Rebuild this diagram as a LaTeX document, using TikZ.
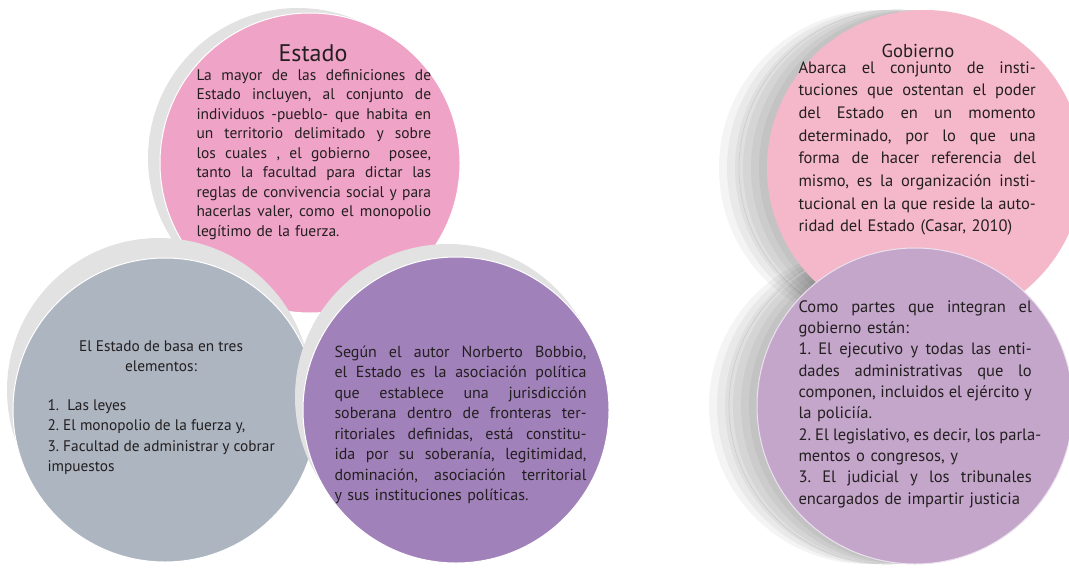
\documentclass[tikz,border=0pt]{standalone}
\usepackage{fontspec}
\setmainfont{PT Sans}

\newlength{\colw}
\newcommand{\jl}[1]{\makebox[\colw][s]{\spaceskip=0.25em plus 1fil\relax #1}}

\tikzset{every picture/.style={line width=0.75pt}}
\tikzset{
  shadowring/.style={draw=none, fill={rgb, 255:red, 226; green, 226; blue, 226 }},
  fadestep/.style={draw=none, fill=black, fill opacity=0.045},
  bodytext/.style={inner sep=0.75pt, font=\fontsize{11.6}{14.6}\selectfont, color={rgb, 255:red, 35; green, 31; blue, 32 }, execute at begin node=\frenchspacing},
}

\begin{document}
\begin{tikzpicture}[x=0.75pt,y=0.75pt,yscale=-1,xscale=1]
\useasboundingbox (0,0) rectangle (1069,567);

%Shape: Circle (Estado)
\draw [shadowring] (298,158) circle [radius=150];
\draw [draw=white, fill={rgb, 255:red, 239; green, 163; blue, 199 }] (310,163) circle [radius=150];
%Shape: Circle (elementos)
\draw [shadowring] (159,390) circle [radius=152];
\draw [draw=white, fill={rgb, 255:red, 173; green, 181; blue, 193 }] (165,410) circle [radius=152];
%Shape: Circle (Bobbio)
\draw [shadowring] (448,397) circle [radius=153];
\draw [draw=white, fill={rgb, 255:red, 161; green, 129; blue, 186 }] (456,410) circle [radius=153];

%Shadow (Gobierno) -- fading to the left
\draw [fadestep] (877,168) circle [radius=158];
\draw [fadestep] (885,168) circle [radius=158];
\draw [fadestep] (893,168) circle [radius=158];
\draw [fadestep] (901,168) circle [radius=158];
\draw [fadestep] (909,168) circle [radius=158];
\draw [fadestep] (917,168) circle [radius=158];
\draw [color=black!20, line width=0.5] (897,168) circle [radius=158];
%Shadow (partes) -- fading to the left
\draw [fadestep] (867,406) circle [radius=158];
\draw [fadestep] (875,406) circle [radius=158];
\draw [fadestep] (883,406) circle [radius=158];
\draw [fadestep] (891,406) circle [radius=158];
\draw [fadestep] (899,406) circle [radius=158];
\draw [fadestep] (907,406) circle [radius=158];
\draw [color=black!20, line width=0.5] (887,406) circle [radius=158];
%Shape: Circle (Gobierno)
\draw [draw=none, fill={rgb, 255:red, 245; green, 184; blue, 203 }] (925,168) circle [radius=158];
%Shape: Circle (partes)
\draw [draw={rgb, 255:red, 235; green, 225; blue, 238 }, fill={rgb, 255:red, 196; green, 166; blue, 203 }] (915,406) circle [radius=158];

% Text Node
\draw (313,53) node (estadotitle) [bodytext, font=\fontsize{18}{20}\selectfont] {Estado};
% Text Node
\draw (195,68) node (estadotext) [bodytext, anchor=north west, text width=176pt] {\colw=176pt\jl{La mayor de las definiciones de}\\\jl{Estado incluyen, al conjunto de}\\\jl{individuos -pueblo- que habita en}\\\jl{un territorio delimitado y sobre}\\\jl{los cuales , el gobierno\ \ posee,}\\\jl{tanto la facultad para dictar las}\\\jl{reglas de convivencia social y para}\\\jl{hacerlas valer, como el monopolio}\\legítimo de la fuerza.};
% Text Node
\draw (161,339) node (basatitle) [bodytext, anchor=north, align=center, font=\fontsize{11.5}{15.3}\selectfont] {El Estado de basa en tres\\elementos:};
% Text Node
\draw (46,398) node (basalist) [bodytext, anchor=north west, align=left, font=\fontsize{11.5}{15.3}\selectfont] {1.\ \ Las leyes\\2. El monopolio de la fuerza y,\\3. Facultad de administrar y cobrar\\impuestos};
% Text Node
\draw (333,344) node (bobbiotext) [bodytext, anchor=north west, text width=189pt, font=\fontsize{12}{15.4}\selectfont] {\colw=189pt\jl{Según el autor Norberto Bobbio,}\\\jl{el Estado es la asociación política}\\\jl{que establece una jurisdicción}\\\jl{soberana dentro de fronteras ter-}\\\jl{ritoriales definidas, está constitu-}\\\jl{ida por su soberanía, legitimidad,}\\\jl{dominación, asociación territorial}\\y sus instituciones políticas.};
% Text Node
\draw (918,51) node (gobiernotitle) [bodytext, font=\fontsize{14}{16}\selectfont] {Gobierno};
% Text Node
\draw (797,60) node (gobiernotext) [bodytext, anchor=north west, text width=178pt, font=\fontsize{12.4}{17}\selectfont] {\colw=178pt\jl{Abarca el conjunto de insti-}\\\jl{tuciones que ostentan el poder}\\\jl{del Estado en un momento}\\\jl{determinado, por lo que una}\\\jl{forma de hacer referencia del}\\\jl{mismo, es la organización insti-}\\\jl{tucional en la que reside la auto-}\\ridad del Estado (Casar, 2010)};
% Text Node
\draw (797,299) node (partestext) [bodytext, anchor=north west, text width=175pt, font=\fontsize{12.4}{16}\selectfont] {\colw=175pt\jl{Como partes que integran el}\\gobierno están:\\\jl{1. El ejecutivo y todas las enti-}\\\jl{dades administrativas que lo}\\\jl{componen, incluidos el ejército y}\\la policiía.\\\jl{2. El legislativo, es decir, los parla-}\\mentos o congresos, y\\\jl{3. El judicial y los tribunales}\\encargados de impartir justicia};

\end{tikzpicture}
\end{document}
